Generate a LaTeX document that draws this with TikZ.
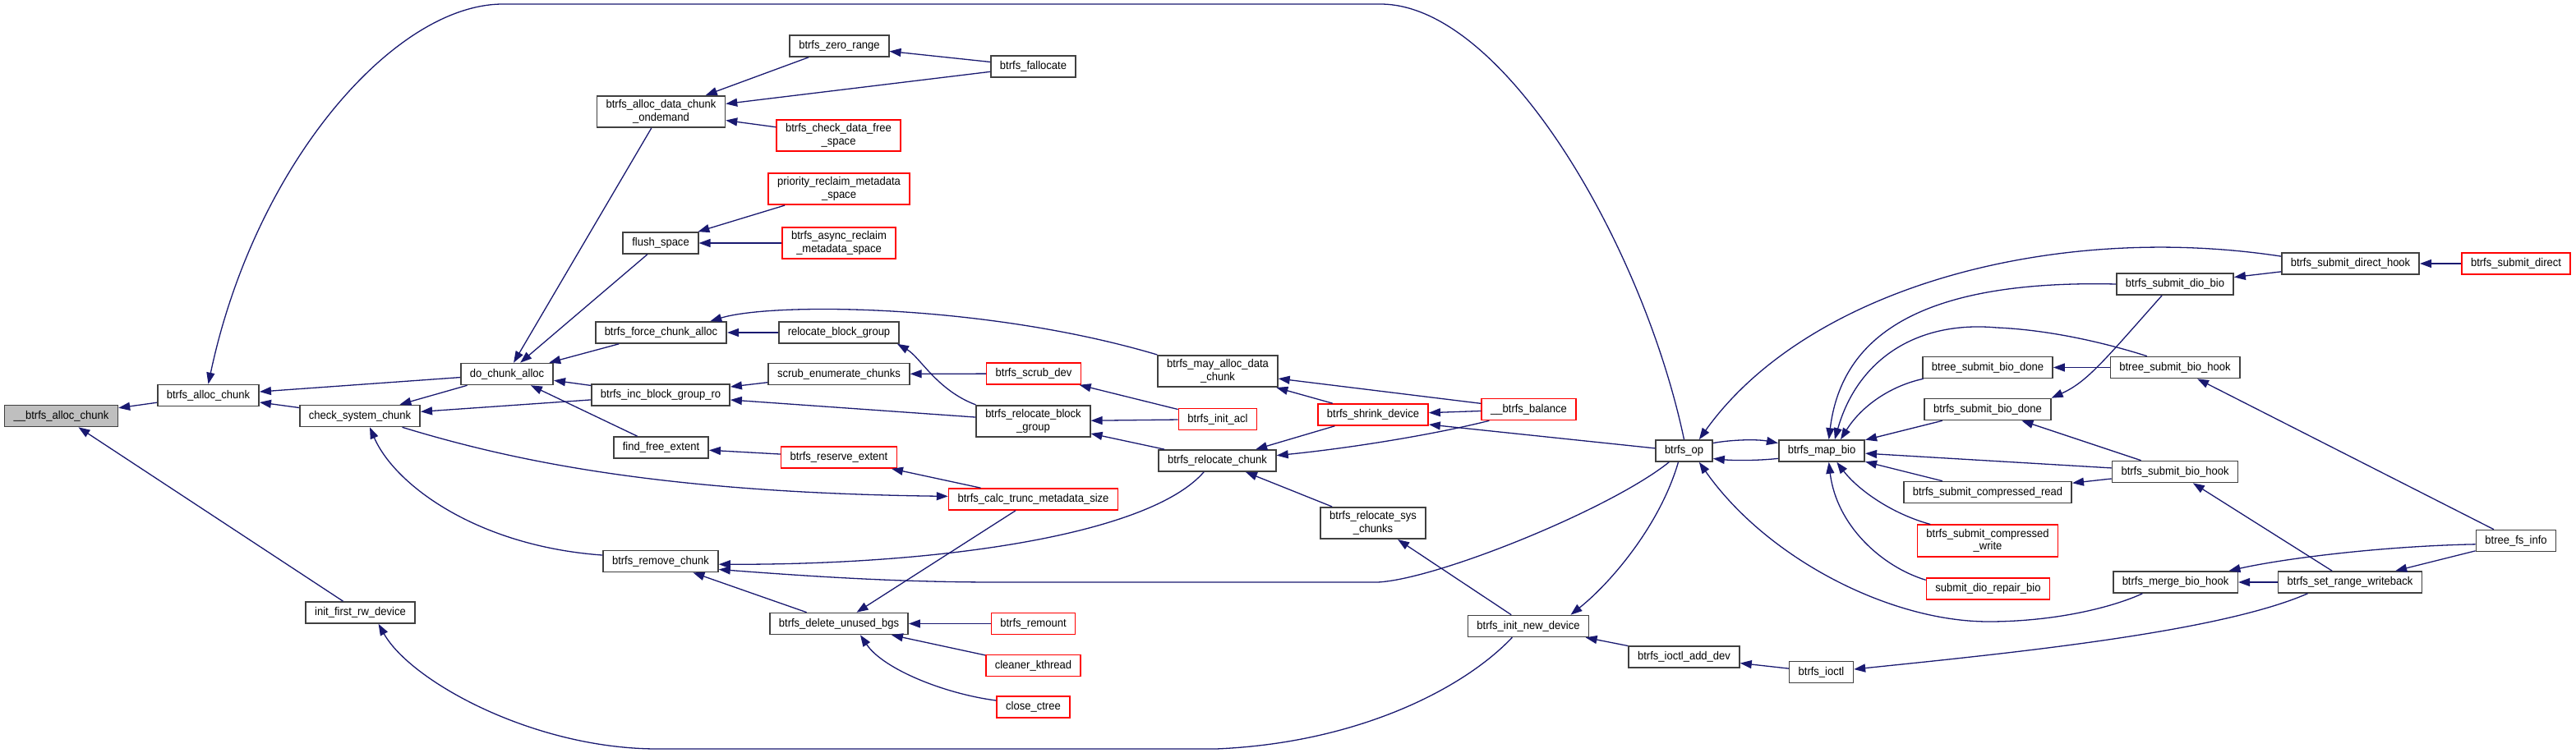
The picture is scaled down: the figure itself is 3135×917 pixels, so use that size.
\documentclass[tikz,border=0pt]{standalone}
\usepackage{fontspec}
\setmainfont{Liberation Sans}[FakeStretch=0.93]
\usetikzlibrary{arrows.meta}
\definecolor{edgeblue}{RGB}{25,25,112}
\begin{document}
\begin{tikzpicture}[x=1pt,y=-1pt,>={Triangle[length=14pt,width=10pt]},
    fn/.style={draw=black!75,line width=1.6pt,fill=white,minimum height=26pt,inner xsep=11pt,inner ysep=5pt,align=center,font=\fontsize{14}{15.5}\selectfont},
    ext/.style={draw=red},
    root/.style={fill=black!25},
    call/.style={<-,draw=edgeblue,line width=1.3pt}]
        \useasboundingbox (0,0) rectangle (3135,917);
        \node[fn,root] (balloc) at (74.5,506.5) {\_\_btrfs\_alloc\_chunk};
        \node[fn] (allocchunk) at (253.5,481.5) {btrfs\_alloc\_chunk};
        \node[fn] (checksys) at (438,506.5) {check\_system\_chunk};
        \node[fn] (initfirst) at (438.5,746) {init\_first\_rw\_device};
        \node[fn] (dochunk) at (617,455.5) {do\_chunk\_alloc};
        \node[fn] (ondemand) at (804.5,136) {btrfs\_alloc\_data\_chunk\\\_ondemand};
        \node[fn] (flush) at (804,296) {flush\_space};
        \node[fn] (force) at (804.5,405) {btrfs\_force\_chunk\_alloc};
        \node[fn] (incro) at (804,481) {btrfs\_inc\_block\_group\_ro};
        \node[fn] (findfree) at (804.5,545) {find\_free\_extent};
        \node[fn] (removechunk) at (804,683.5) {btrfs\_remove\_chunk};
        \node[fn] (zerorange) at (1021.5,56) {btrfs\_zero\_range};
        \node[fn,ext] (checkdata) at (1020.5,165) {btrfs\_check\_data\_free\\\_space};
        \node[fn,ext] (priority) at (1021,230) {priority\_reclaim\_metadata\\\_space};
        \node[fn,ext] (asyncrec) at (1021,296) {btrfs\_async\_reclaim\\\_metadata\_space};
        \node[fn] (relocbg) at (1021,405) {relocate\_block\_group};
        \node[fn] (scrubenum) at (1021,455.5) {scrub\_enumerate\_chunks};
        \node[fn,ext] (reserve) at (1021,557) {btrfs\_reserve\_extent};
        \node[fn] (deleteunused) at (1021,759.5) {btrfs\_delete\_unused\_bgs};
        \node[fn] (fallocate) at (1257.5,81) {btrfs\_fallocate};
        \node[fn,ext] (scrubdev) at (1258,455) {btrfs\_scrub\_dev};
        \node[fn] (relocbgroup) at (1257.5,513) {btrfs\_relocate\_block\\\_group};
        \node[fn,ext] (calctrunc) at (1257.5,608) {btrfs\_calc\_trunc\_metadata\_size};
        \node[fn,ext] (remount) at (1257.5,759.5) {btrfs\_remount};
        \node[fn,ext] (cleaner) at (1257.5,810.5) {cleaner\_kthread};
        \node[fn,ext] (closectree) at (1257.5,861) {close\_ctree};
        \node[fn] (mayalloc) at (1482,452) {btrfs\_may\_alloc\_data\\\_chunk};
        \node[fn,ext] (initacl) at (1482,510.5) {btrfs\_init\_acl};
        \node[fn] (relocchunk) at (1481.5,561) {btrfs\_relocate\_chunk};
        \node[fn,ext] (shrink) at (1671,505) {btrfs\_shrink\_device};
        \node[fn] (relocsys) at (1671,637) {btrfs\_relocate\_sys\\\_chunks};
        \node[fn,ext] (balance) at (1860.5,498.5) {\_\_btrfs\_balance};
        \node[fn] (initnew) at (1860,762.5) {btrfs\_init\_new\_device};
        \node[fn] (btrfsop) at (2049.5,549) {btrfs\_op};
        \node[fn] (ioctladd) at (2049.5,800) {btrfs\_ioctl\_add\_dev};
        \node[fn] (mapbio) at (2217,549) {btrfs\_map\_bio};
        \node[fn] (ioctl) at (2216.5,818.5) {btrfs\_ioctl};
        \node[fn] (btreedone) at (2419,447.5) {btree\_submit\_bio\_done};
        \node[fn] (biodone) at (2419,498.5) {btrfs\_submit\_bio\_done};
        \node[fn] (compread) at (2419,599.5) {btrfs\_submit\_compressed\_read};
        \node[fn,ext] (compwrite) at (2419,658.5) {btrfs\_submit\_compressed\\\_write};
        \node[fn,ext] (repair) at (2419.5,717) {submit\_dio\_repair\_bio};
        \node[fn] (diobio) at (2647,346) {btrfs\_submit\_dio\_bio};
        \node[fn] (btreehook) at (2647,447.5) {btree\_submit\_bio\_hook};
        \node[fn] (biohook) at (2647,574.5) {btrfs\_submit\_bio\_hook};
        \node[fn] (mergehook) at (2647.5,709) {btrfs\_merge\_bio\_hook};
        \node[fn] (directhook) at (2860.5,321) {btrfs\_submit\_direct\_hook};
        \node[fn] (setrange) at (2860,709) {btrfs\_set\_range\_writeback};
        \node[fn,ext] (direct) at (3062,321) {btrfs\_submit\_direct};
        \node[fn] (fsinfo) at (3062,658.5) {btree\_fs\_info};
        \draw[call] (balloc) -- (allocchunk);
        \draw[call] (balloc) -- (initfirst);
        \draw[call] (allocchunk) -- (dochunk);
        \draw[call] (allocchunk) -- (checksys);
        \draw[call] (allocchunk.north) .. controls (310,200) and (480,5) .. (612,5) -- (1680,5) .. controls (1830,5) and (2000,300) .. (btrfsop.north);
        \draw[call] (dochunk) -- (ondemand);
        \draw[call] (dochunk) -- (flush);
        \draw[call] (dochunk) -- (force);
        \draw[call] (dochunk) -- (incro);
        \draw[call] (dochunk) -- (findfree);
        \draw[call] (checksys) -- (dochunk);
        \draw[call] (checksys) -- (incro);
        \draw[call] (checksys.-49) .. controls (480,590) and (580,665) .. (removechunk.174);
        \draw[call] (calctrunc.178) .. controls (800,600) and (620,560) .. (checksys.-15);
        \draw[call] (ondemand) -- (zerorange);
        \draw[call] (ondemand) -- (fallocate);
        \draw[call] (ondemand) -- (checkdata);
        \draw[call] (zerorange) -- (fallocate);
        \draw[call] (flush) -- (priority);
        \draw[call] (flush) -- (asyncrec);
        \draw[call] (force) -- (relocbg);
        \draw[call] (force.13) .. controls (940,368) and (1200,370) .. (mayalloc.north west);
        \draw[call] (incro) -- (scrubenum);
        \draw[call] (incro) -- (relocbgroup);
        \draw[call] (scrubenum) -- (scrubdev);
        \draw[call] (relocbg.-11) .. controls (1120,435) and (1140,475) .. (relocbgroup.north west);
        \draw[call] (findfree) -- (reserve);
        \draw[call] (reserve) -- (calctrunc);
        \draw[call] (scrubdev) -- (initacl);
        \draw[call] (relocbgroup) -- (initacl);
        \draw[call] (relocbgroup) -- (relocchunk);
        \draw[call] (mayalloc) -- (shrink);
        \draw[call] (mayalloc) -- (balance);
        \draw[call] (relocchunk) -- (shrink);
        \draw[call] (relocchunk.5) .. controls (1650,545) and (1750,528) .. (balance.-164);
        \draw[call] (relocchunk) -- (relocsys);
        \draw[call] (removechunk.-3) .. controls (1150,688) and (1400,650) .. (relocchunk.-140);
        \draw[call] (removechunk.-8) .. controls (1000,703) and (1100,709) .. (1213,709) -- (1677,709) .. controls (1750,705) and (1960,620) .. (btrfsop.-143);
        \draw[call] (removechunk) -- (deleteunused);
        \draw[call] (deleteunused) -- (calctrunc);
        \draw[call] (deleteunused) -- (remount);
        \draw[call] (deleteunused) -- (cleaner);
        \draw[call] (deleteunused.-28) .. controls (1075,815) and (1150,845) .. (closectree.170);
        \draw[call] (shrink) -- (balance);
        \draw[call] (shrink.-10) -- (btrfsop.175);
        \draw[call] (relocsys) -- (initnew);
        \draw[call] (initnew.15) .. controls (1960,710) and (2020,640) .. (btrfsop.-117);
        \draw[call] (initfirst.-32) .. controls (500,830) and (650,912) .. (800,912) -- (1480,912) .. controls (1650,905) and (1780,840) .. (initnew.-145);
        \draw[call] (initnew) -- (ioctladd);
        \draw[call] (ioctladd) -- (ioctl);
        \draw[call] (ioctl.5) .. controls (2450,795) and (2700,770) .. (setrange.-165);
        \draw[call] (mapbio.170) .. controls (2140,535) and (2110,535) .. (btrfsop.15);
        \draw[call] (btrfsop.-15) .. controls (2110,561) and (2140,561) .. (mapbio.-170);
        \draw[call] (btrfsop.37) .. controls (2200,350) and (2500,270) .. (directhook.174);
        \draw[call] (btrfsop.-37) .. controls (2150,680) and (2300,757) .. (2420,757) .. controls (2500,757) and (2570,740) .. (mergehook.-161);
        \draw[call] (mapbio.58) .. controls (2240,420) and (2320,340) .. (diobio.west);
        \draw[call] (mapbio.41) .. controls (2260,440) and (2330,390) .. (2430,399) .. controls (2500,402) and (2570,420) .. (btreehook.158);
        \draw[call] (mapbio.31) .. controls (2265,495) and (2300,470) .. (btreedone.-170);
        \draw[call] (mapbio) -- (biodone);
        \draw[call] (mapbio) -- (biohook);
        \draw[call] (mapbio) -- (compread);
        \draw[call] (mapbio.-37) .. controls (2260,595) and (2300,625) .. (compwrite.164);
        \draw[call] (mapbio.-58) .. controls (2235,640) and (2290,690) .. (repair.172);
        \draw[call] (diobio) -- (directhook);
        \draw[call] (directhook) -- (direct);
        \draw[call] (btreedone) -- (btreehook);
        \draw[call] (btreehook) -- (fsinfo);
        \draw[call] (biodone.north east) .. controls (2540,465) and (2560,440) .. (diobio.-139);
        \draw[call] (biodone) -- (biohook);
        \draw[call] (compread) -- (biohook);
        \draw[call] (biohook) -- (setrange);
        \draw[call] (mergehook.12) .. controls (2780,680) and (2900,665) .. (fsinfo.-175);
        \draw[call] (mergehook) -- (setrange);
        \draw[call] (setrange) -- (fsinfo);
    \end{tikzpicture}
\end{document}
